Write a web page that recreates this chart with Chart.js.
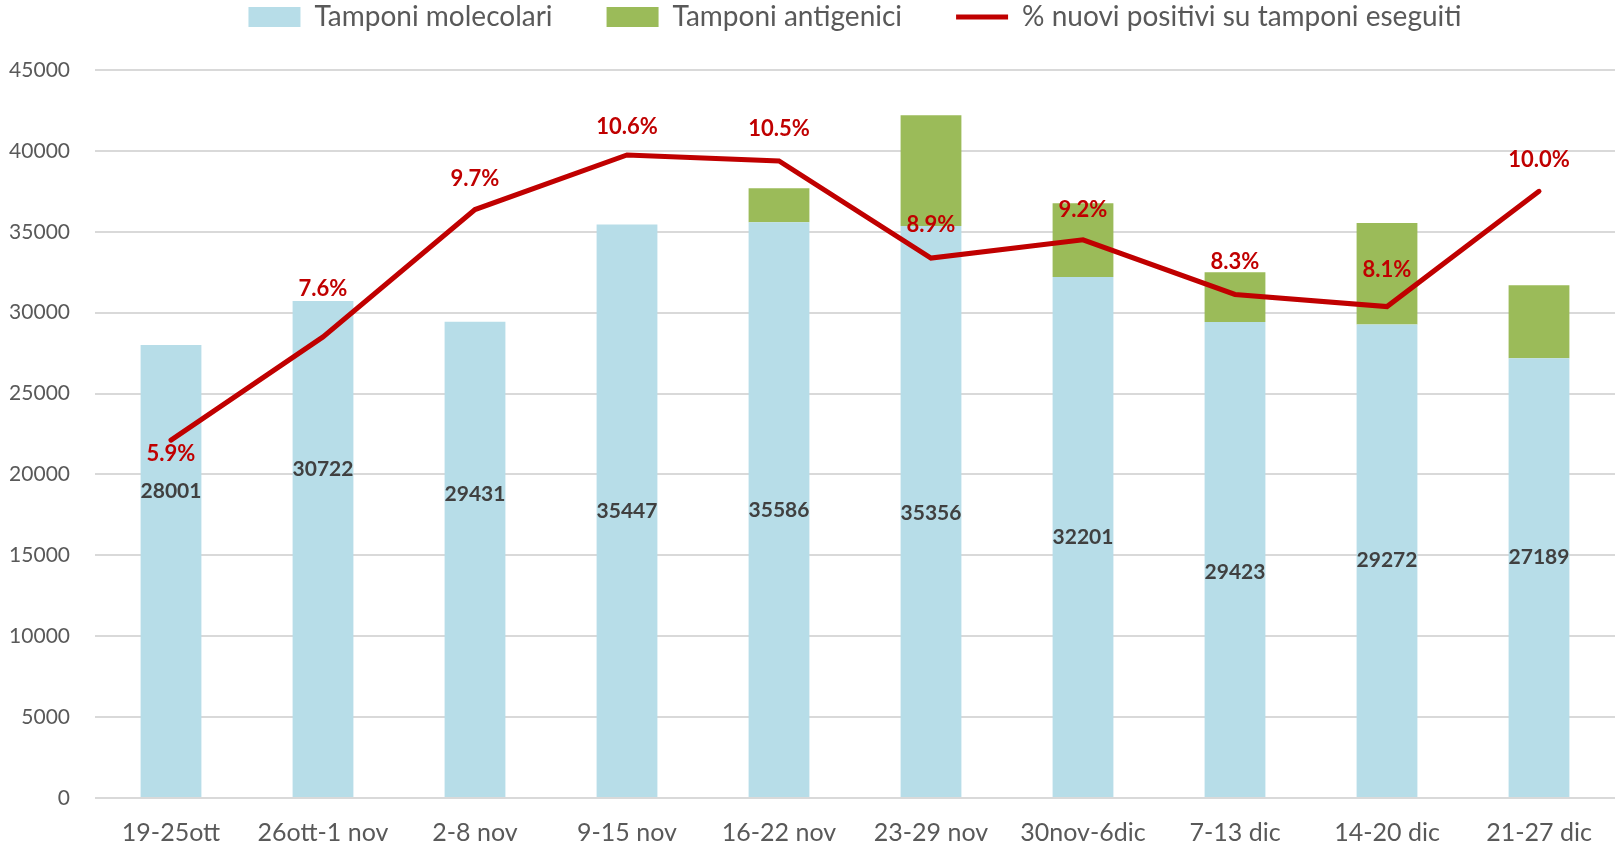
<!DOCTYPE html>
<html><head><meta charset="utf-8">
<script src="https://cdn.jsdelivr.net/npm/chart.js@4"></script>
<style>html,body{margin:0;padding:0;background:#fff}#wrap{width:1615px;height:847px}</style>
</head><body><div id="wrap"><canvas id="c"></canvas></div>
<script>
const categories = ['19-25ott','26ott-1 nov','2-8 nov','9-15 nov','16-22 nov','23-29 nov','30nov-6dic','7-13 dic','14-20 dic','21-27 dic'];
const molecolari = [28001,30722,29431,35447,35586,35356,32201,29423,29272,27189];
const antigenici = [0,0,0,0,2103,6843,4561,3076,6273,4507];
const percPositivi = [5.9,7.6,9.7,10.6,10.5,8.9,9.2,8.3,8.1,10.0];
const yTicks = [0,5000,10000,15000,20000,25000,30000,35000,40000,45000];

const FONT = 'Lato, "Open Sans", sans-serif';

const labelPlugin = {
  id: 'manualLabels',
  afterDatasetsDraw(chart, args, opts) {
    const ctx = chart.ctx, x = chart.scales.x, y = chart.scales.y;
    ctx.save();
    ctx.textAlign = 'center';
    ctx.textBaseline = 'middle';
    ctx.font = 'bold 21px ' + FONT;
    ctx.fillStyle = '#404040';
    molecolari.forEach((v, i) => {
      ctx.fillText(String(v), x.getPixelForValue(i), y.getPixelForValue(opts.molAnchors[i]));
    });
    ctx.font = 'bold 22px ' + FONT;
    ctx.fillStyle = '#C00000';
    percPositivi.forEach((v, i) => {
      ctx.fillText(v.toFixed(1) + '%', x.getPixelForValue(i), y.getPixelForValue(opts.pctAnchors[i]));
    });
    ctx.restore();
  }
};

new Chart(document.getElementById('c'), {
  data: {
    labels: categories,
    datasets: [
      { type: 'line', label: '% nuovi positivi su tamponi eseguiti', data: percPositivi, yAxisID: 'y2',
        borderColor: '#C00000', backgroundColor: '#C00000', borderWidth: 5, pointRadius: 0, pointHoverRadius: 0,
        tension: 0, borderCapStyle: 'round', borderJoinStyle: 'miter', pointStyle: 'line', order: 0 },
      { type: 'bar', label: 'Tamponi molecolari', data: molecolari, backgroundColor: '#B7DDE8', yAxisID: 'y',
        stack: 's', barPercentage: 0.4, categoryPercentage: 1.0, pointStyle: 'rect', order: 1 },
      { type: 'bar', label: 'Tamponi antigenici', data: antigenici, backgroundColor: '#9BBB59', yAxisID: 'y',
        stack: 's', barPercentage: 0.4, categoryPercentage: 1.0, pointStyle: 'rect', order: 1 }
    ]
  },
  options: {
    responsive: true, maintainAspectRatio: false, animation: false,
    devicePixelRatio: 1,
    layout: { padding: { top: -51, right: 0, bottom: 0, left: 0 } },
    plugins: {
      tooltip: { enabled: false },
      legend: {
        display: true, position: 'top', fullSize: false,
        labels: {
          sort: (a, b) => {
            const ord = {'Tamponi molecolari':0,'Tamponi antigenici':1,'% nuovi positivi su tamponi eseguiti':2};
            return ord[a.text] - ord[b.text];
          },
          usePointStyle: true, pointStyleWidth: 52, boxHeight: 20,
          color: '#595959', font: { family: FONT, size: 28 }, padding: 54
        }
      },
      manualLabels: {
        molAnchors: [18970,20300,18780,17700,17760,17630,16100,13940,14700,14900],
        pctAnchors: [21259,31443,38254,41500,41372,35453,36344,33161,32652,39463]
      }
    },
    scales: {
      x: {
        grid: { display: false, drawTicks: false },
        border: { display: false },
        ticks: { color: '#595959', font: { family: FONT, size: 25 }, padding: 20, maxRotation: 0, autoSkip: false },
        afterFit: (s) => { s.height = 49; }
      },
      xTop: {
        type: 'category', position: 'top',
        grid: { display: false, drawTicks: false },
        border: { display: false },
        ticks: { display: false },
        afterFit: (s) => { s.height = 29; }
      },
      y: {
        min: 0, max: 45000,
        afterBuildTicks: (s) => { s.ticks = yTicks.map(v => ({ value: v })); },
        grid: { color: '#D9D9D9', lineWidth: 2, drawTicks: false },
        border: { display: false },
        ticks: { color: '#595959', font: { family: FONT, size: 21 }, padding: 25, callback: v => String(v) },
        afterFit: (s) => { s.width = 95; }
      },
      y2: {
        min: 0, max: 12, display: false, position: 'right', grid: { display: false }
      }
    }
  },
  plugins: [labelPlugin]
});
</script></body></html>
